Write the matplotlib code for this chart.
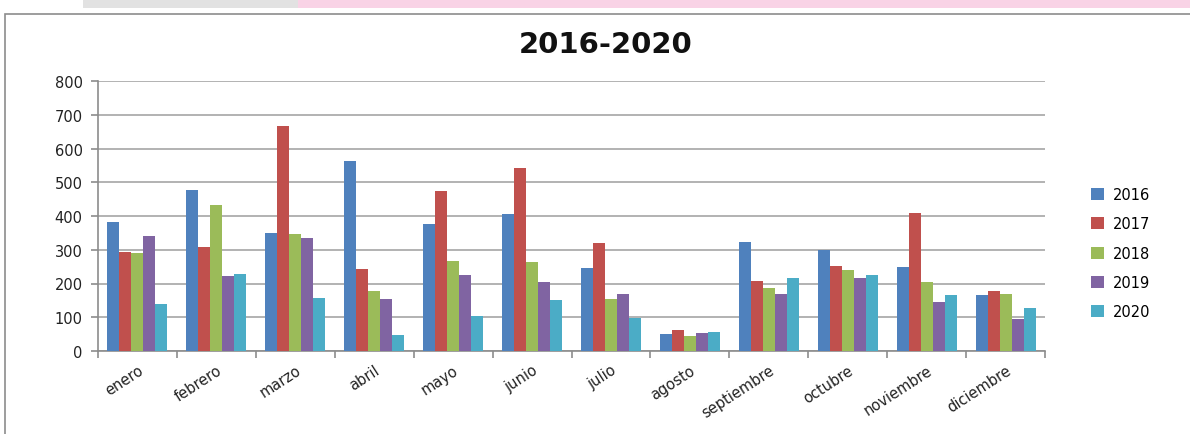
import matplotlib
matplotlib.use("Agg")
import matplotlib.pyplot as plt
import numpy as np
from matplotlib.patches import Rectangle

months = ["enero", "febrero", "marzo", "abril", "mayo", "junio", "julio",
          "agosto", "septiembre", "octubre", "noviembre", "diciembre"]
years = ["2016", "2017", "2018", "2019", "2020"]
v2016 = [383, 478, 351, 564, 375, 405, 246, 50, 322, 299, 250, 166]
v2017 = [293, 307, 668, 242, 473, 543, 319, 61, 206, 252, 409, 177]
v2018 = [290, 434, 348, 177, 267, 264, 155, 44, 188, 239, 203, 169]
v2019 = [340, 221, 336, 155, 224, 203, 169, 54, 169, 217, 145, 94]
v2020 = [138, 228, 158, 47, 104, 152, 99, 57, 217, 224, 166, 127]
series = [v2016, v2017, v2018, v2019, v2020]
colors = ["#4F81BD", "#C0504D", "#9BBB59", "#8064A2", "#4BACC6"]
yticks = [0, 100, 200, 300, 400, 500, 600, 700, 800]

W, H = 1190, 435
fig = plt.figure(figsize=(W / 100, H / 100), dpi=100)

# screenshot top strip and chart border
fig.patches.append(Rectangle((0.25, 1 - 9 / H), 0.75, 9 / H, transform=fig.transFigure,
                             facecolor="#F9D3E6", edgecolor="none", zorder=0))
fig.patches.append(Rectangle((0.07, 1 - 9 / H), 0.18, 9 / H, transform=fig.transFigure,
                             facecolor="#E2E2E2", edgecolor="none", zorder=0))
fig.patches.append(Rectangle((5 / W, -0.05), 1.2, 1 - 15 / H + 0.05, transform=fig.transFigure,
                             facecolor="white", edgecolor="#8C8C8C", linewidth=1.2, zorder=1))

ax = fig.add_axes([98 / W, 83 / H, 947 / W, 270 / H])
ax.set_zorder(2)
ax.patch.set_alpha(0)

n = len(series)
bw = 0.152
x = np.arange(len(months))
for i, (vals, c, lab) in enumerate(zip(series, colors, years)):
    ax.bar(x + (i - (n - 1) / 2) * bw, vals, width=bw, color=c, label=lab,
           edgecolor="none", zorder=3)

ax.set_xlim(-0.5, len(months) - 0.5)
ax.set_ylim(0, 800)
ax.set_yticks(yticks)
ax.set_yticklabels([str(t) for t in yticks], fontsize=10.5, color="#222222")
ax.yaxis.grid(True, color="#A6A6A6", linewidth=1.2, zorder=0)
ax.set_axisbelow(True)

ax.set_xticks(x)
ax.set_xticklabels(months, rotation=33, ha="right", rotation_mode="anchor",
                   fontsize=10.5, color="#222222")
ax.tick_params(axis="x", which="major", length=0, pad=8)
ax.set_xticks(np.arange(-0.5, len(months)), minor=True)
ax.tick_params(axis="x", which="minor", length=5, color="#8C8C8C", width=1.2)
ax.tick_params(axis="y", length=5, color="#8C8C8C", width=1.2, pad=6)

for s in ["top", "right"]:
    ax.spines[s].set_visible(False)
for s in ["left", "bottom"]:
    ax.spines[s].set_color("#8C8C8C")
    ax.spines[s].set_linewidth(1.2)

fig.text(606 / W, 1 - 45 / H, "2016-2020", ha="center", va="center",
         fontsize=21, fontweight="bold", color="#111111")

leg = ax.legend(loc="upper left", bbox_to_anchor=(1078 / W, 1 - 175 / H),
                bbox_transform=fig.transFigure, frameon=False, fontsize=10.5,
                handlelength=0.9, handleheight=0.9, labelspacing=0.98,
                handletextpad=0.6)

fig.savefig("out.png", dpi=100)
